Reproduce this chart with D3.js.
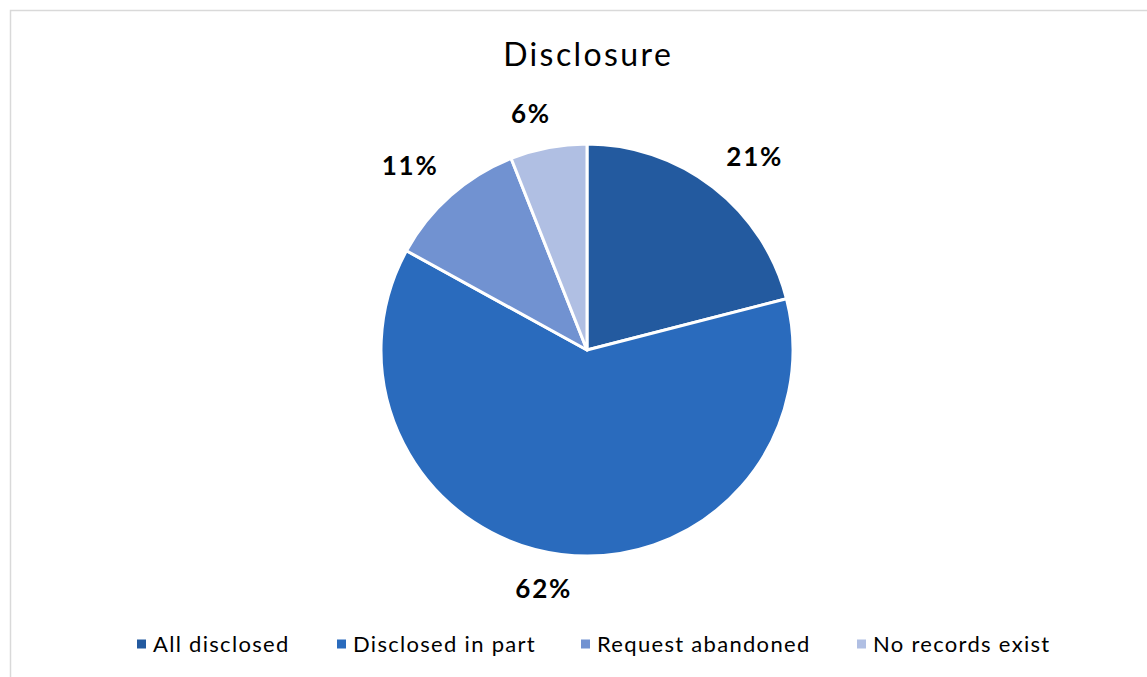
<!DOCTYPE html>
<html>
<head>
<meta charset="utf-8">
<script src="https://cdn.jsdelivr.net/npm/d3@7"></script>
<style>
  html, body { margin: 0; padding: 0; background: #ffffff; }
  svg { display: block; }
</style>
</head>
<body>
<svg id="chart" width="1147" height="677"></svg>
<script>
// Disclosure outcomes (percent of requests)
const categories = ["All disclosed", "Disclosed in part", "Request abandoned", "No records exist"];
const values = [21, 62, 11, 6];
const colors = ["#235a9f", "#2a6bbd", "#7192d1", "#b0bfe3"];
const title = "Disclosure";

const W = 1147, H = 677;
const FONT = "Lato, 'Open Sans', sans-serif";
const svg = d3.select("#chart");

// chart area frame (right and bottom edges run past the page)
svg.append("rect")
  .attr("x", 10.5).attr("y", 10.5)
  .attr("width", W + 20).attr("height", H + 20)
  .attr("fill", "#fff")
  .attr("stroke", "#d9d9d9").attr("stroke-width", 1.5);

const cx = 587, cy = 350, R = 206;

svg.append("text")
  .attr("x", cx + 1.2).attr("y", 66)
  .attr("text-anchor", "middle")
  .attr("font-family", FONT)
  .attr("font-size", 32)
  .attr("letter-spacing", 2.4)
  .attr("fill", "#000")
  .text(title);

const data = categories.map((c, i) => ({ name: c, value: values[i], color: colors[i] }));

const pie = d3.pie().value(d => d.value).sort(null);
const arcs = pie(data);
const arc = d3.arc().innerRadius(0).outerRadius(R);

const g = svg.append("g").attr("transform", `translate(${cx},${cy})`);
g.selectAll("path.slice")
  .data(arcs)
  .join("path")
  .attr("class", "slice")
  .attr("d", arc)
  .attr("fill", d => d.data.color)
  .attr("stroke", "#fff")
  .attr("stroke-width", 3)
  .attr("stroke-linejoin", "round");

// value labels placed just outside each slice's outer edge
const labelSize = 26;
const labelSpacing = 1.8;
const gap = 20;
const labels = g.selectAll("text.lbl")
  .data(arcs)
  .join("text")
  .attr("class", "lbl")
  .attr("font-family", FONT)
  .attr("font-weight", "bold")
  .attr("font-size", labelSize)
  .attr("letter-spacing", labelSpacing)
  .attr("fill", "#000")
  .attr("text-anchor", "middle")
  .text(d => d.data.value + "%");

labels.each(function(d) {
  const t = d3.select(this);
  const w = this.getComputedTextLength();
  const h = labelSize * 1.1;
  const a = (d.startAngle + d.endAngle) / 2;
  const s = Math.sin(a), c = Math.cos(a);
  const px = (R + gap) * s, py = -(R + gap) * c;
  const ox = (w / 2) * Math.tanh(s * 5);
  const oy = -(h / 2) * Math.tanh(c * 5);
  t.attr("x", px + ox + labelSpacing / 2).attr("y", py + oy + labelSize * 0.35);
});

// legend
const legendY = 644;
const legendX = [137, 337, 581, 857];
const lg = svg.append("g");
categories.forEach((name, i) => {
  lg.append("rect")
    .attr("x", legendX[i]).attr("y", legendY - 4.5)
    .attr("width", 9).attr("height", 9)
    .attr("fill", colors[i]);
  lg.append("text")
    .attr("x", legendX[i] + 16).attr("y", legendY + 7.5)
    .attr("font-family", FONT)
    .attr("font-size", 22)
    .attr("letter-spacing", 1.3)
    .attr("fill", "#000")
    .text(name);
});
</script>
</body>
</html>
